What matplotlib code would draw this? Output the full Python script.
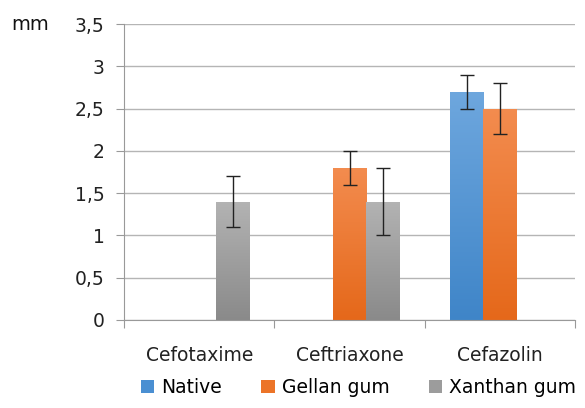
import matplotlib
matplotlib.use("Agg")
import matplotlib.pyplot as plt
import numpy as np
from matplotlib.colors import LinearSegmentedColormap
from matplotlib.patches import Rectangle

categories = ["Cefotaxime", "Ceftriaxone", "Cefazolin"]
series = ["Native", "Gellan gum", "Xanthan gum"]
native = [np.nan, np.nan, 2.7]
gellan = [np.nan, 1.8, 2.5]
xanthan = [1.4, 1.4, np.nan]
native_err = [np.nan, np.nan, 0.2]
gellan_err = [np.nan, 0.2, 0.3]
xanthan_err = [0.3, 0.4, np.nan]
y_ticks = [0, 0.5, 1, 1.5, 2, 2.5, 3, 3.5]

# (top colour, bottom colour) for the gradient fill
gradients = [("#6ea7de", "#3f85c8"), ("#f38c4f", "#e5681a"), ("#b3b3b3", "#8a8a8a")]
legend_colors = ["#4a8fd2", "#ec7428", "#9c9c9c"]

plt.rcParams["font.family"] = ["DejaVu Sans"]
fs = 13.5

fig = plt.figure(figsize=(5.85, 4.08), dpi=100)
ax = fig.add_axes([0.212, 0.216, 0.771, 0.725])

values = [native, gellan, xanthan]
errors = [native_err, gellan_err, xanthan_err]
x = np.arange(len(categories))
width = 0.222
offsets = [-width, 0.0, width]

grad = np.linspace(0, 1, 256).reshape(-1, 1)
for vals, errs, off, (top, bottom) in zip(values, errors, offsets, gradients):
    cmap = LinearSegmentedColormap.from_list("g", [bottom, top])
    for xi, v, e in zip(x, vals, errs):
        if np.isnan(v):
            continue
        left = xi + off - width / 2
        rect = Rectangle((left, 0), width, v, facecolor="none", edgecolor="none")
        ax.add_patch(rect)
        im = ax.imshow(grad, cmap=cmap, aspect="auto", origin="lower",
                       extent=[left, left + width, 0, v], zorder=2)
        im.set_clip_path(rect)
        ax.errorbar(xi + off, v, yerr=e, fmt="none", ecolor="#222222",
                    elinewidth=1.0, capsize=4.8, capthick=1.0, zorder=3)

ax.set_xlim(-0.5, 2.5)
ax.set_ylim(0, 3.5)
ax.set_yticks(y_ticks)
ax.set_yticklabels([f"{t:g}".replace(".", ",") for t in y_ticks])
ax.yaxis.grid(True, color="#b5b5b5", linewidth=1.0, zorder=0)
ax.set_axisbelow(True)

ax.set_xticks([-0.5, 0.5, 1.5, 2.5])
ax.set_xticklabels([])
ax.set_xticks(x, minor=True)
ax.set_xticklabels(categories, minor=True, fontsize=fs, color="#222222")
ax.tick_params(axis="x", which="minor", length=0, pad=19)
ax.tick_params(axis="x", which="major", length=6, color="#999999", direction="out")
ax.tick_params(axis="y", length=6, color="#999999", labelsize=fs, labelcolor="#222222", pad=8)

for s in ["top", "right"]:
    ax.spines[s].set_visible(False)
for s in ["left", "bottom"]:
    ax.spines[s].set_color("#999999")

fig.text(0.02, 0.94, "mm", fontsize=14, color="#111111", va="center")

handles = [Rectangle((0, 0), 1, 1, facecolor=c, edgecolor="none") for c in legend_colors]
fig.legend(handles, series, loc="lower center", bbox_to_anchor=(0.613, -0.015), ncol=3,
           frameon=False, fontsize=fs, handlelength=0.7, handleheight=0.7,
           handletextpad=0.38, columnspacing=2.1)

fig.savefig("out.png", dpi=100)
